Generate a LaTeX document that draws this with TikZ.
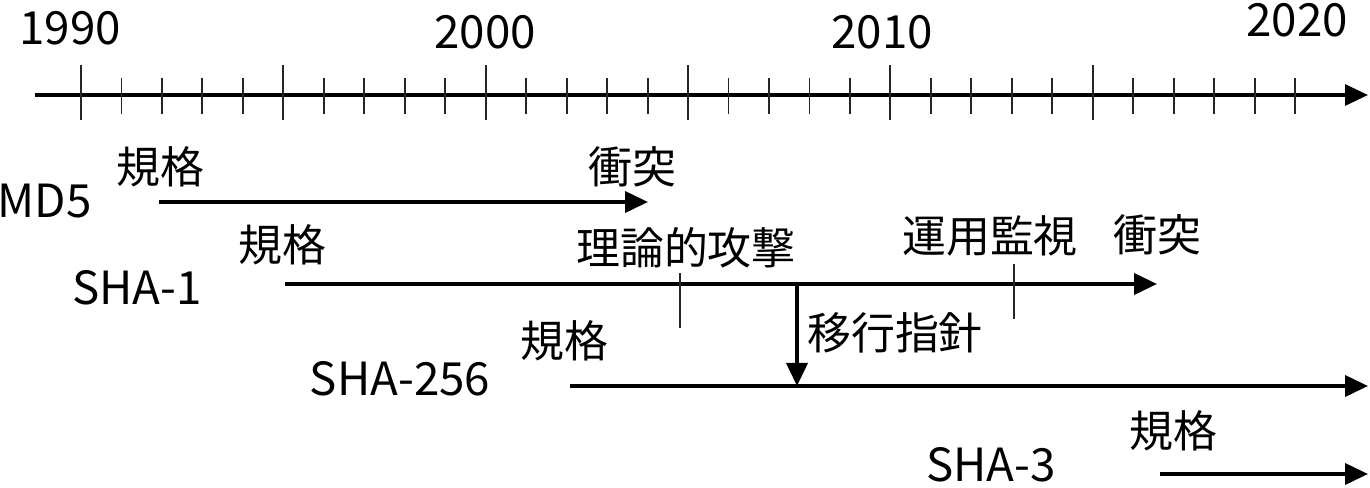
\documentclass[tikz,border=0pt]{standalone}
\usepackage{fontspec}
\setmainfont{Noto Sans CJK JP}
\usetikzlibrary{arrows.meta}

\begin{document}
\begin{tikzpicture}[x=0.1mm, y=-0.1mm, font=\fontsize{12.5}{14}\selectfont,
  lbl/.style={inner sep=0pt},
  latinlbl/.style={inner sep=0pt, font=\fontsize{13}{15}\selectfont},
  span/.style={-{Triangle[length=2.3mm,width=2.1mm]}, line width=1.1pt},
  evt/.style={line width=0.55pt, black!85}]
  \useasboundingbox (0,0) rectangle (1370,488);
  % time axis
  \coordinate (ax0) at (35,95);
  \coordinate (ax1) at (1368,95);
  \draw[span, line width=0.9pt] (ax0) -- (ax1);
  \foreach \i in {0,...,30} \draw[evt] (81+40.47*\i,78) -- (81+40.47*\i,114);
  \foreach \i in {0,5,...,25} \draw[evt] (81+40.47*\i,65) -- (81+40.47*\i,120);
  \node[latinlbl] (y1990) at (70,28) {1990};
  \node[latinlbl] (y2000) at (485,32) {2000};
  \node[latinlbl] (y2010) at (882,32) {2010};
  \node[latinlbl] (y2020) at (1297,20) {2020};
  % MD5
  \node[latinlbl, anchor=west] (md5) at (-3,201) {MD5};
  \node[lbl] (md5std) at (160,167) {規格};
  \node[lbl] (md5col) at (632,167) {衝突};
  \coordinate (md5a) at (159,202);
  \coordinate (md5b) at (648,202);
  \draw[span] (md5a) -- (md5b);
  % SHA-1
  \node[latinlbl] (sha1) at (137,288) {SHA-1};
  \node[lbl] (sha1std) at (282,245) {規格};
  \node[lbl] (sha1th) at (686,248) {理論的攻撃};
  \node[lbl] (sha1op) at (990,236) {運用監視};
  \node[lbl] (sha1col) at (1157,235) {衝突};
  \coordinate (sha1a) at (285,284);
  \coordinate (sha1b) at (1157,284);
  \draw[span] (sha1a) -- (sha1b);
  \coordinate (th0) at (680,273);
  \coordinate (th1) at (680,328);
  \draw[evt] (th0) -- (th1);
  \coordinate (op0) at (1014,264);
  \coordinate (op1) at (1014,319);
  \draw[evt] (op0) -- (op1);
  % SHA-256
  \node[latinlbl] (sha256) at (400,379) {SHA-256};
  \node[lbl] (sha256std) at (564,341) {規格};
  \node[lbl] (mig) at (895,333) {移行指針};
  \coordinate (sha256a) at (570,386);
  \coordinate (sha256b) at (1368,386);
  \draw[span] (sha256a) -- (sha256b);
  \coordinate (mig0) at (797,286);
  \coordinate (mig1) at (797,386);
  \draw[span] (mig0) -- (mig1);
  % SHA-3
  \node[latinlbl] (sha3) at (991,465) {SHA-3};
  \node[lbl] (sha3std) at (1173,431) {規格};
  \coordinate (sha3a) at (1160,474);
  \coordinate (sha3b) at (1368,474);
  \draw[span] (sha3a) -- (sha3b);
\end{tikzpicture}
\end{document}
